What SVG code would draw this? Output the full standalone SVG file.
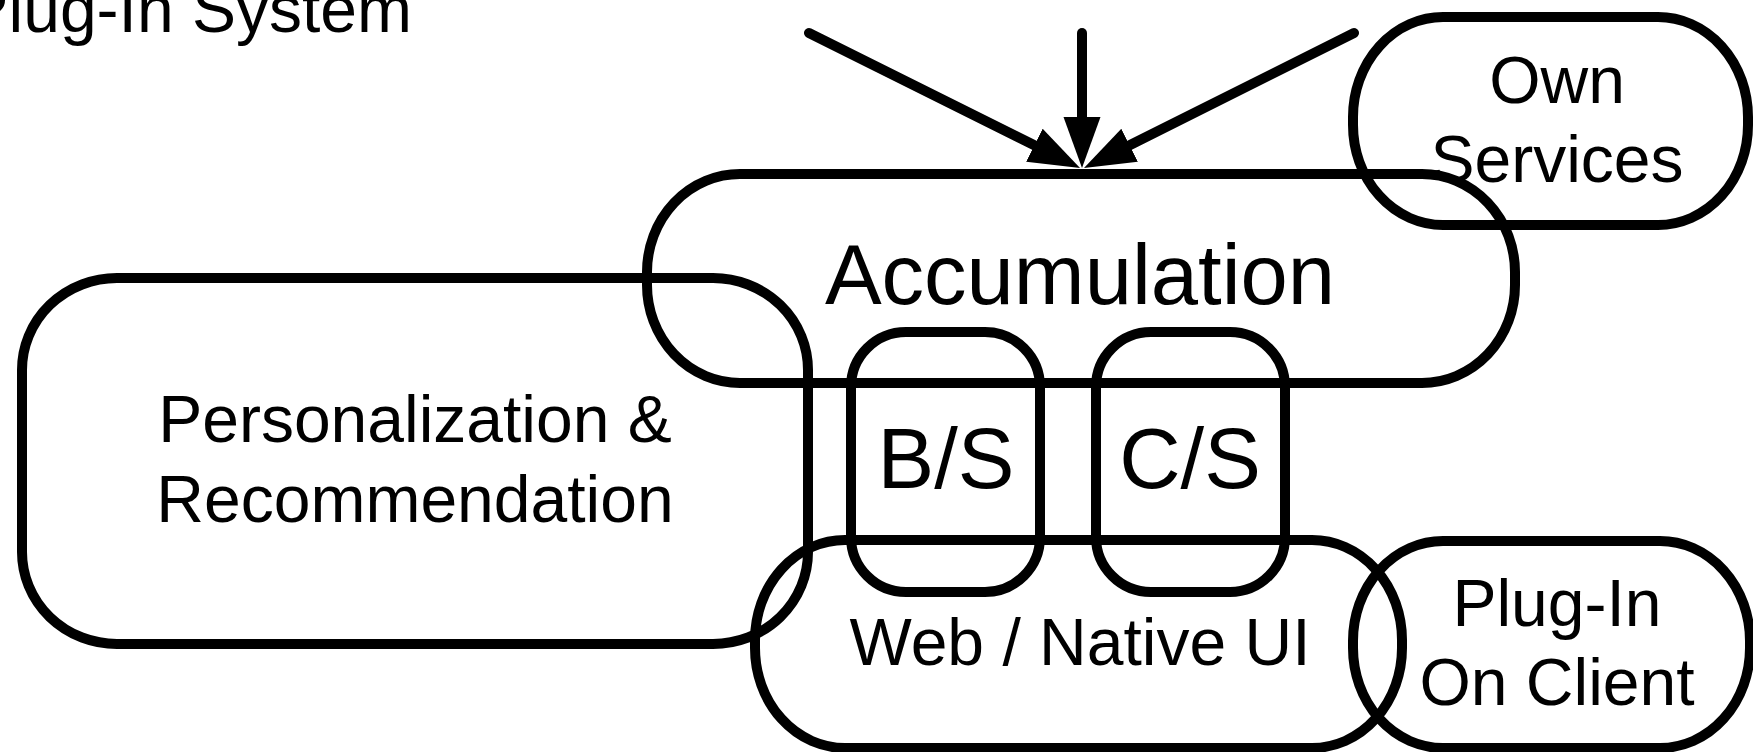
<svg xmlns="http://www.w3.org/2000/svg" width="1753" height="752" viewBox="0 0 1753 752">
<style>
.box{fill:none;stroke:#000;stroke-width:10}
.t{font-family:"Liberation Sans",Arial,sans-serif;fill:#000;text-anchor:middle}
.m{font-size:66px}
.l{font-size:85px}
.arr{stroke:#000;stroke-width:10;stroke-linecap:round;fill:none}
</style>
<defs>
<marker id="ah" markerUnits="userSpaceOnUse" markerWidth="52" markerHeight="38" viewBox="0 -19 52 38" refX="0" refY="0" orient="auto">
<path d="M0,-18.5 L51,0 L0,18.5 z" fill="#000"/>
</marker>
</defs>
<rect width="1753" height="752" fill="#fff"/>
<text class="t m" x="412" y="32" style="text-anchor:end">Plug-In System</text>
<g id="personalization">
<rect class="box" x="22" y="278" width="786" height="366" rx="95" ry="92"/>
<text class="t m" x="415" y="442">Personalization &amp;</text>
<text class="t m" x="415" y="522">Recommendation</text>
</g>
<g id="accumulation">
<rect class="box" x="647" y="174" width="868" height="209" rx="93" ry="98"/>
<text class="t l" x="1080" y="304">Accumulation</text>
</g>
<g id="own-services">
<rect class="box" x="1353" y="17" width="395" height="208" rx="90" ry="100"/>
<text class="t m" x="1557" y="103">Own</text>
<text class="t m" x="1557" y="182">Services</text>
</g>
<g id="web-native-ui">
<rect class="box" x="755" y="540" width="647" height="208" rx="90" ry="100"/>
<text class="t m" x="1080" y="665">Web / Native UI</text>
</g>
<g id="plugin-client">
<rect class="box" x="1353" y="541" width="397" height="207" rx="90" ry="100"/>
<text class="t m" x="1557" y="626">Plug-In</text>
<text class="t m" x="1557" y="705">On Client</text>
</g>
<g id="bs">
<rect class="box" x="851" y="332" width="189" height="260" rx="55" ry="55"/>
<text class="t l" x="946" y="488">B/S</text>
</g>
<g id="cs">
<rect class="box" x="1096" y="332" width="189" height="260" rx="55" ry="55"/>
<text class="t l" x="1190" y="488">C/S</text>
</g>
<g id="connectors">
<line class="arr" x1="809" y1="33" x2="1034.4" y2="145.3" marker-end="url(#ah)"/>
<line class="arr" x1="1082" y1="33" x2="1082" y2="117" marker-end="url(#ah)"/>
<line class="arr" x1="1354" y1="33" x2="1129.6" y2="145.2" marker-end="url(#ah)"/>
</g>
</svg>
